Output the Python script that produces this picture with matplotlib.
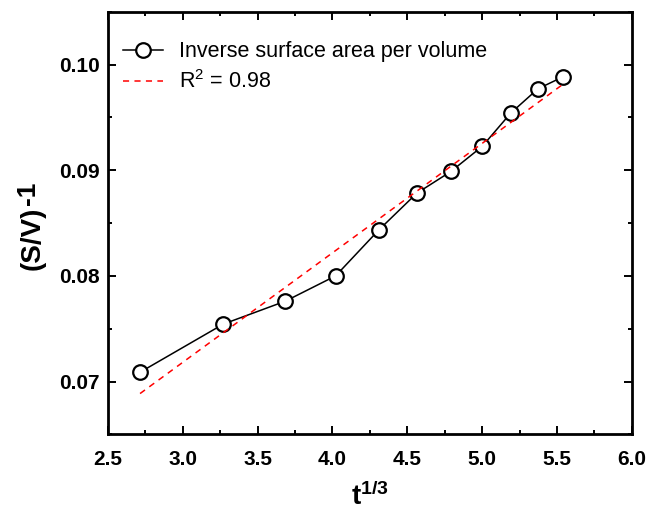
import numpy as np
import matplotlib
matplotlib.use("Agg")
import matplotlib.pyplot as plt
from matplotlib.ticker import MultipleLocator, FormatStrFormatter

plt.rcParams["font.family"] = ["Liberation Sans", "DejaVu Sans"]
plt.rcParams["mathtext.fontset"] = "custom"
plt.rcParams["mathtext.rm"] = "Liberation Sans"
plt.rcParams["mathtext.it"] = "Liberation Sans:italic"
plt.rcParams["mathtext.bf"] = "Liberation Sans:bold"

# t^(1/3) values and inverse surface area per volume
t_cbrt = [2.714, 3.271, 3.684, 4.021, 4.309, 4.563, 4.791, 5.000, 5.192, 5.372, 5.540]
inv_sv = [0.07088, 0.07544, 0.07760, 0.08000, 0.08434, 0.08782,
          0.08988, 0.09225, 0.09542, 0.09770, 0.09884]
series_label = "Inverse surface area per volume"
fit_label = r"R$^2$ = 0.98"

fig = plt.figure(figsize=(6.48, 5.11), dpi=100)
ax = fig.add_axes([0.1667, 0.150, 0.8083, 0.827])

ax.plot(t_cbrt, inv_sv, color="black", lw=1.1, marker="o", ms=10.5,
        mfc="white", mec="black", mew=1.6, label=series_label, zorder=3)

# linear least-squares fit over the data range
slope, icpt = np.polyfit(t_cbrt, inv_sv, 1)
xf = np.array([t_cbrt[0], t_cbrt[-1]])
ax.plot(xf, slope * xf + icpt, color="red", lw=1.1, ls=(0, (4, 3.5)),
        label=fit_label, zorder=4)

ax.set_xlim(2.5, 6.0)
ax.set_ylim(0.065, 0.105)
ax.xaxis.set_major_locator(MultipleLocator(0.5))
ax.xaxis.set_minor_locator(MultipleLocator(0.25))
ax.yaxis.set_major_locator(MultipleLocator(0.01))
ax.yaxis.set_minor_locator(MultipleLocator(0.005))
ax.xaxis.set_major_formatter(FormatStrFormatter("%.1f"))
ax.yaxis.set_major_formatter(FormatStrFormatter("%.2f"))

ax.tick_params(which="both", direction="in", top=True, right=True, width=1.4)
ax.tick_params(which="major", length=6, labelsize=15)
ax.tick_params(axis="x", which="major", pad=11)
ax.tick_params(axis="y", which="major", pad=6)
ax.tick_params(which="minor", length=3)
for lab in ax.get_xticklabels() + ax.get_yticklabels():
    lab.set_fontweight("bold")
for sp in ax.spines.values():
    sp.set_linewidth(2)

ax.set_xlabel(r"$\mathbf{t^{1/3}}$", fontsize=20, labelpad=10)
ylab = ax.set_ylabel("(S/V)", fontsize=20, fontweight="bold")
ax.yaxis.set_label_coords(-0.12, 0.465)
# raised "-1" after the y label
ax.annotate("-1", xy=(0, 1), xycoords=ylab, xytext=(-2, 1),
            textcoords="offset points", rotation=90, ha="left", va="bottom",
            fontsize=19, fontweight="bold")

ax.legend(loc="upper left", bbox_to_anchor=(0.028, 0.930), frameon=False,
          fontsize=15.5, borderaxespad=0, borderpad=0, handlelength=1.87,
          handletextpad=0.74, labelspacing=0.38)

fig.savefig("out.png", dpi=100)
